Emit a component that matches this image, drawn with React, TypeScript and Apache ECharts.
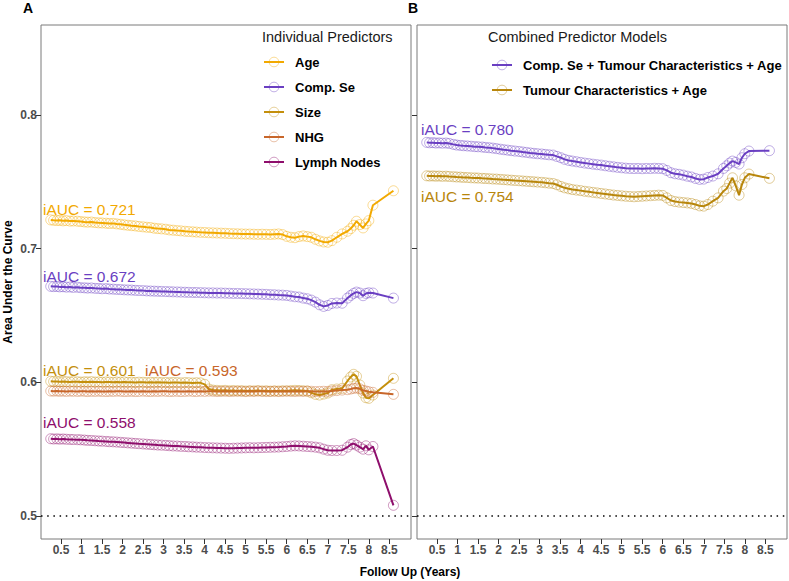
import React, { useEffect, useRef } from "react";
import * as echarts from "echarts";

// Follow-up times (years) shared by every model
const followUp = [
  0.25, 0.32, 0.4, 0.47, 0.55, 0.63, 0.72, 0.8, 0.9, 0.98,
  1.07, 1.15, 1.24, 1.33, 1.42, 1.5, 1.6, 1.68, 1.77, 1.86,
  1.95, 2.04, 2.13, 2.22, 2.31, 2.4, 2.5, 2.59, 2.68, 2.77,
  2.86, 2.95, 3.05, 3.14, 3.23, 3.33, 3.42, 3.52, 3.61, 3.71,
  3.8, 3.9, 4.0, 4.1, 4.2, 4.3, 4.4, 4.5, 4.6, 4.7,
  4.8, 4.9, 5.0, 5.1, 5.2, 5.3, 5.4, 5.5, 5.6, 5.7,
  5.8, 5.9, 6.0, 6.1, 6.2, 6.3, 6.4, 6.5, 6.6, 6.7,
  6.8, 6.9, 7.0, 7.1, 7.22, 7.35, 7.48, 7.56, 7.63, 7.7,
  7.78, 7.86, 7.93, 8.0, 8.1, 8.6,
];

const xTickLabels = [0.5, 1, 1.5, 2, 2.5, 3, 3.5, 4, 4.5, 5, 5.5, 6, 6.5, 7, 7.5, 8, 8.5];
const yTickLabels = [0.5, 0.6, 0.7, 0.8];

// Panel A: individual predictors
const ageAUC = [
  0.7215, 0.7212, 0.721, 0.7212, 0.7208, 0.721, 0.7206, 0.7207, 0.7205, 0.7203,
  0.72, 0.7198, 0.7199, 0.7195, 0.7193, 0.7192, 0.719, 0.7188, 0.7189, 0.7185,
  0.7182, 0.7178, 0.7175, 0.7172, 0.717, 0.7166, 0.7163, 0.716, 0.7158, 0.7153,
  0.715, 0.7148, 0.7145, 0.714, 0.7138, 0.7135, 0.7133, 0.713, 0.7128, 0.7126,
  0.7124, 0.7122, 0.7121, 0.7119, 0.7118, 0.7117, 0.7116, 0.7115, 0.7113, 0.7112,
  0.7111, 0.711, 0.7109, 0.7109, 0.7108, 0.7107, 0.7108, 0.7107, 0.7106, 0.7108,
  0.711, 0.7105, 0.7092, 0.7085, 0.7082, 0.709, 0.7095, 0.709, 0.7085, 0.707,
  0.7058, 0.705, 0.7048, 0.706, 0.7085, 0.711, 0.713, 0.715, 0.7175, 0.7205,
  0.718, 0.7155, 0.7185, 0.721, 0.7325, 0.7433,
];
const compSeAUC = [
  0.6718, 0.6716, 0.6717, 0.6714, 0.6715, 0.6712, 0.6713, 0.671, 0.6711, 0.6708,
  0.6707, 0.6705, 0.6706, 0.6703, 0.6702, 0.67, 0.6701, 0.6698, 0.6697, 0.6695,
  0.6694, 0.6692, 0.6691, 0.669, 0.6688, 0.6687, 0.6686, 0.6684, 0.6683, 0.6682,
  0.6681, 0.668, 0.6679, 0.6678, 0.6677, 0.6676, 0.6675, 0.6674, 0.6673, 0.6672,
  0.6672, 0.6671, 0.667, 0.6669, 0.6669, 0.6668, 0.6668, 0.6667, 0.6666, 0.6665,
  0.6665, 0.6664, 0.6663, 0.6662, 0.6661, 0.666, 0.6659, 0.6658, 0.6656, 0.6655,
  0.6653, 0.6652, 0.665, 0.6645, 0.664, 0.6638, 0.663, 0.6625, 0.6615, 0.66,
  0.658, 0.6568, 0.6575, 0.659, 0.6593, 0.6592, 0.663, 0.665, 0.6665, 0.6675,
  0.6668, 0.6648, 0.6665, 0.667, 0.6668, 0.663,
];
const sizeAUC = [
  0.6008, 0.6006, 0.6007, 0.6004, 0.6006, 0.6005, 0.6003, 0.6005, 0.6004, 0.6002,
  0.6004, 0.6003, 0.6005, 0.6002, 0.6003, 0.6001, 0.6003, 0.6002, 0.6, 0.6002,
  0.6001, 0.6003, 0.6, 0.6001, 0.5999, 0.6001, 0.6, 0.5998, 0.6, 0.5999,
  0.6001, 0.5998, 0.5999, 0.5997, 0.5999, 0.5998, 0.5996, 0.5998, 0.5997, 0.5995,
  0.5997, 0.5996, 0.5985, 0.595, 0.5942, 0.594, 0.5938, 0.594, 0.5937, 0.5939,
  0.5936, 0.5938, 0.5935, 0.5937, 0.5936, 0.5938, 0.5935, 0.5937, 0.5934, 0.5936,
  0.5935, 0.5937, 0.5936, 0.5938, 0.594, 0.5939, 0.5937, 0.5935, 0.5922, 0.591,
  0.5905, 0.5912, 0.592, 0.5945, 0.595, 0.5955, 0.601, 0.604, 0.606, 0.6045,
  0.598, 0.592, 0.5885, 0.588, 0.5905, 0.603,
];
const nhgAUC = [
  0.5935, 0.5934, 0.5935, 0.5933, 0.5934, 0.5932, 0.5934, 0.5933, 0.5932, 0.5934,
  0.5933, 0.5931, 0.5933, 0.5932, 0.5934, 0.5932, 0.5931, 0.5933, 0.5932, 0.5934,
  0.5933, 0.5931, 0.5932, 0.5933, 0.5931, 0.5932, 0.5934, 0.5932, 0.5931, 0.5933,
  0.5932, 0.5934, 0.5933, 0.5931, 0.5932, 0.5933, 0.5931, 0.5932, 0.5934, 0.5932,
  0.5931, 0.5933, 0.5932, 0.5934, 0.5933, 0.5931, 0.5932, 0.5933, 0.5931, 0.5932,
  0.5934, 0.5932, 0.5931, 0.5933, 0.5932, 0.5934, 0.5933, 0.5931, 0.5932, 0.5933,
  0.5931, 0.5932, 0.5934, 0.5932, 0.5931, 0.5933, 0.5932, 0.5934, 0.5933, 0.5931,
  0.5932, 0.5933, 0.5932, 0.5935, 0.5938, 0.5942, 0.5945, 0.595, 0.5955, 0.5957,
  0.5952, 0.594, 0.5935, 0.593, 0.5925, 0.591,
];
const lymphAUC = [
  0.5578, 0.5576, 0.5577, 0.5575, 0.5576, 0.5574, 0.5573, 0.5572, 0.5571, 0.557,
  0.5568, 0.5566, 0.5565, 0.5563, 0.5561, 0.556, 0.5558, 0.5556, 0.5555, 0.5553,
  0.5551, 0.5549, 0.5547, 0.5545, 0.5543, 0.5541, 0.5539, 0.5537, 0.5535, 0.5533,
  0.5531, 0.553, 0.5528, 0.5526, 0.5524, 0.5523, 0.5521, 0.552, 0.5518, 0.5517,
  0.5515, 0.5514, 0.5512, 0.5511, 0.551, 0.5509, 0.5508, 0.5507, 0.5506, 0.5507,
  0.5508, 0.5509, 0.551, 0.5511, 0.551, 0.5511, 0.5512, 0.5513, 0.5514, 0.5515,
  0.5516, 0.5518, 0.552, 0.5523, 0.5525, 0.5524, 0.5522, 0.552, 0.5518, 0.5515,
  0.551, 0.55, 0.5492, 0.549, 0.549, 0.5492, 0.5515, 0.5535, 0.5542, 0.553,
  0.5515, 0.55, 0.5525, 0.5495, 0.552, 0.508,
];

// Panel B: combined predictor models
const compSeTumourAgeAUC = [
  0.7795, 0.7792, 0.7793, 0.779, 0.7791, 0.7789, 0.779, 0.7787, 0.778, 0.7775,
  0.7772, 0.777, 0.7768, 0.7766, 0.7763, 0.7762, 0.776, 0.7757, 0.7755, 0.7752,
  0.7748, 0.7744, 0.774, 0.7737, 0.7733, 0.773, 0.7727, 0.7723, 0.772, 0.7716,
  0.7713, 0.771, 0.7708, 0.7705, 0.7702, 0.77, 0.769, 0.768, 0.7668, 0.766,
  0.7655, 0.765, 0.7645, 0.764, 0.7636, 0.7632, 0.7628, 0.7625, 0.762, 0.7616,
  0.7612, 0.7608, 0.7605, 0.7602, 0.76, 0.7599, 0.76, 0.7598, 0.76, 0.7599,
  0.7601, 0.76, 0.7598, 0.7585, 0.7568, 0.756, 0.7556, 0.755, 0.7542, 0.7536,
  0.7525, 0.7518, 0.752, 0.7532, 0.7543, 0.756, 0.76, 0.762, 0.764, 0.7655,
  0.7645, 0.7633, 0.768, 0.771, 0.773, 0.7733,
];
const tumourAgeAUC = [
  0.7545, 0.7543, 0.7544, 0.7542, 0.7543, 0.7541, 0.7542, 0.754, 0.7538, 0.7536,
  0.7535, 0.7533, 0.7532, 0.753, 0.7529, 0.7528, 0.7526, 0.7525, 0.7523, 0.7521,
  0.752, 0.7518, 0.7516, 0.7514, 0.7512, 0.751, 0.7508, 0.7506, 0.7504, 0.7502,
  0.75, 0.7498, 0.7496, 0.7493, 0.749, 0.7487, 0.7478, 0.7465, 0.7455, 0.7448,
  0.7442, 0.7438, 0.7434, 0.7429, 0.7425, 0.7421, 0.7417, 0.7413, 0.7409, 0.7405,
  0.7401, 0.7398, 0.7395, 0.7392, 0.739, 0.7388, 0.739, 0.7392, 0.7394, 0.7396,
  0.7398, 0.74, 0.7398, 0.738, 0.736, 0.7352, 0.7348, 0.7345, 0.7342, 0.7338,
  0.733, 0.732, 0.7318, 0.733, 0.7355, 0.738, 0.743, 0.745, 0.749, 0.753,
  0.747, 0.74, 0.748, 0.753, 0.7558, 0.7526,
];

const panelANames = ["Age", "Comp. Se", "Size", "NHG", "Lymph Nodes"];
const panelAValues = [ageAUC, compSeAUC, sizeAUC, nhgAUC, lymphAUC];
const panelAColors = ["#F2A900", "#6A3FC2", "#C48F0C", "#C8662A", "#8E0E6C"];
const panelAiAUC = ["0.721", "0.672", "0.601", "0.593", "0.558"];

const panelBNames = ["Comp. Se + Tumour Characteristics + Age", "Tumour Characteristics + Age"];
const panelBValues = [compSeTumourAgeAUC, tumourAgeAUC];
const panelBColors = ["#6A3FC2", "#B8860B"];
const panelBiAUC = ["0.780", "0.754"];

const FONT = '"Liberation Sans", Arial, Helvetica, sans-serif';

function hexToRgba(hex: string, a: number) {
  const r = parseInt(hex.slice(1, 3), 16);
  const g = parseInt(hex.slice(3, 5), 16);
  const b = parseInt(hex.slice(5, 7), 16);
  return `rgba(${r},${g},${b},${a})`;
}

function makeSeries(name: string, values: number[], color: string, idx: number, withRef: boolean) {
  const s: any = {
    name,
    type: "line",
    xAxisIndex: idx,
    yAxisIndex: idx,
    data: followUp.map((t, i) => [t, values[i]]),
    symbol: "circle",
    symbolSize: 10,
    showSymbol: true,
    lineStyle: { color, width: 2 },
    itemStyle: { color: "rgba(255,255,255,0)", borderColor: hexToRgba(color, 0.42), borderWidth: 1 },
    emphasis: { disabled: true },
    z: 3,
  };
  if (withRef) {
    s.markLine = {
      silent: true,
      symbol: "none",
      label: { show: false },
      lineStyle: { color: "#000", type: [1.5, 4.7], width: 1.6 },
      data: [{ yAxis: 0.5 }],
    };
  }
  return s;
}

function legendData(names: string[], colors: string[]) {
  return names.map((name, i) => ({
    name,
    itemStyle: { color: "rgba(255,255,255,0)", borderColor: hexToRgba(colors[i], 0.42), borderWidth: 1 },
    lineStyle: { color: colors[i], width: 2 },
  }));
}

export default function App() {
  const ref = useRef<HTMLDivElement>(null);
  useEffect(() => {
    if (!ref.current) return;
    const chart = echarts.init(ref.current, undefined, { renderer: "svg" });

    const grids = [
      { left: 41, top: 25, width: 370, height: 514 },
      { left: 417, top: 25, width: 370, height: 514 },
    ].map((g) => ({ ...g, show: true, borderColor: "#7a7a7a", borderWidth: 1, backgroundColor: "#fff" }));

    const xMin = 0.0127;
    const xMax = 9.028;
    const xAxes = [0, 1].map((i) => ({
      type: "value",
      gridIndex: i,
      min: xMin,
      max: xMax,
      axisLine: { show: false },
      splitLine: { show: false },
      axisTick: { show: true, length: 5, lineStyle: { color: "#333" }, customValues: xTickLabels },
      axisLabel: {
        show: true,
        customValues: xTickLabels,
        margin: 5,
        color: "#4d4d4d",
        fontWeight: "bold",
        fontSize: 12,
        fontFamily: FONT,
      },
    }));
    const yAxes = [0, 1].map((i) => ({
      type: "value",
      gridIndex: i,
      min: 0.4828,
      max: 0.8673,
      axisLine: { show: false },
      splitLine: { show: false },
      axisTick: { show: true, length: 5, lineStyle: { color: "#333" }, customValues: yTickLabels },
      axisLabel: {
        show: i === 0,
        customValues: yTickLabels,
        margin: 4,
        color: "#4d4d4d",
        fontWeight: "bold",
        fontSize: 12,
        fontFamily: FONT,
        formatter: (v: number) => v.toFixed(1),
      },
    }));

    const series: any[] = [];
    panelANames.forEach((n, i) => series.push(makeSeries(n, panelAValues[i], panelAColors[i], 0, i === 0)));
    panelBNames.forEach((n, i) => series.push(makeSeries(n, panelBValues[i], panelBColors[i], 1, i === 0)));

    const legendCommon = {
      orient: "vertical",
      padding: 0,
      itemWidth: 20,
      itemHeight: 12,
      itemGap: 11,
      selectedMode: false,
      textStyle: { fontSize: 13, fontWeight: "bold", color: "#000", fontFamily: FONT, lineHeight: 14, padding: [0, 0, 0, 6] },
    };

    const iaucLabelPos = [
      [43, 209],
      [43, 276],
      [43, 370],
      [145, 370],
      [43, 422],
    ];
    const iaucLabelPosB = [
      [421, 129],
      [421, 196.5],
    ];

    const txt = (text: string, x: number, y: number, fill: string, font: string, extra: any = {}) => ({
      type: "text",
      x,
      y,
      silent: true,
      z: 10,
      ...extra,
      style: { text, fill, font, align: "left", verticalAlign: "middle", textAlign: "left", textVerticalAlign: "middle", ...(extra.style || {}) },
    });

    const graphics: any[] = [];
    panelAiAUC.forEach((v, i) =>
      graphics.push(txt(`iAUC = ${v}`, iaucLabelPos[i][0], iaucLabelPos[i][1], panelAColors[i], `15.5px ${FONT}`))
    );
    panelBiAUC.forEach((v, i) =>
      graphics.push(txt(`iAUC = ${v}`, iaucLabelPosB[i][0], iaucLabelPosB[i][1], panelBColors[i], `15.5px ${FONT}`))
    );
    graphics.push(txt("Individual Predictors", 262, 37, "#1a1a1a", `14.5px ${FONT}`));
    graphics.push(txt("Combined Predictor Models", 488, 37, "#1a1a1a", `14.5px ${FONT}`));
    graphics.push(txt("A", 23, 8, "#000", `bold 14px ${FONT}`));
    graphics.push(txt("B", 408, 8, "#000", `bold 14px ${FONT}`));
    graphics.push(
      txt("Follow Up (Years)", 410, 572, "#000", `bold 12px ${FONT}`, {
        style: { align: "center", textAlign: "center" },
      })
    );
    graphics.push(
      txt("Area Under the Curve", 8, 282, "#000", `bold 12px ${FONT}`, {
        rotation: Math.PI / 2,
        style: { align: "center", textAlign: "center" },
      })
    );

    chart.setOption({
      animation: false,
      backgroundColor: "#fff",
      grid: grids,
      xAxis: xAxes,
      yAxis: yAxes,
      legend: [
        { ...legendCommon, data: legendData(panelANames, panelAColors), left: 263, top: 55 },
        { ...legendCommon, data: legendData(panelBNames, panelBColors), left: 491, top: 58 },
      ],
      series,
      graphic: graphics,
    });

    return () => chart.dispose();
  }, []);

  return (
    <div
      ref={ref}
      style={{ position: "fixed", left: 0, top: 0, width: 789, height: 581, background: "#fff" }}
    />
  );
}
